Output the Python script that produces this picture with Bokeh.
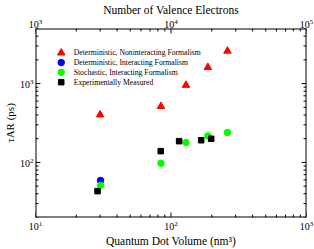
import math
from bokeh.plotting import figure
from bokeh.models import Range1d, LogAxis, LogScale, LogTicker
from bokeh.core.properties import value
from bokeh.embed import file_html
from bokeh.resources import INLINE

# Data
nonint_vol = [30, 84.3, 129, 187, 261]
nonint_tau = [402, 515, 955, 1610, 2590]
int_vol = [30.2]
int_tau = [59]
stoch_vol = [30.2, 84.3, 129, 187, 261]
stoch_tau = [51, 97.7, 179, 217, 240]
exp_vol = [28.7, 84, 114.8, 167, 198]
exp_tau = [43.2, 139, 186, 191, 199.5]

legend_labels = ["Deterministic, Noninteracting Formalism",
                 "Deterministic, Interacting Formalism",
                 "Stochastic, Interacting Formalism",
                 "Experimentally Measured"]

# tick positions (volume axis; the electron axis shares them, x100)
x_major = [10, 100, 1000]
x_minor = [k * d for d in (10, 100) for k in range(2, 10)]
y_major = [100, 1000]
y_minor = [k * d for d in (10, 100, 1000) for k in range(2, 10) if 20 <= k * d <= 5000]

SERIF = "Liberation Serif"
X0, X1 = 9.9999, 1000.01
Y0, Y1 = 20, 5000

p = figure(width=314, height=249, output_backend="svg", toolbar_location=None,
           x_axis_type="log", y_axis_type="log",
           x_range=Range1d(X0, X1), y_range=Range1d(Y0, Y1),
           min_border_left=31, min_border_right=8, min_border_top=24, min_border_bottom=31)
p.background_fill_color = "white"
p.border_fill_color = "white"
p.outline_line_color = None
p.xgrid.visible = False
p.ygrid.visible = False

p.extra_x_ranges = {"top": Range1d(999.99, 100001)}
p.extra_x_scales = {"top": LogScale()}

top_axis = LogAxis(x_range_name="top", ticker=LogTicker(num_minor_ticks=10))
p.add_layout(top_axis, "above")

p.below[0].ticker = LogTicker(num_minor_ticks=10)
p.left[0].ticker = LogTicker(num_minor_ticks=10)

for ax in [p.below[0], p.left[0], top_axis]:
    ax.major_tick_in = 0
    ax.major_tick_out = 0
    ax.minor_tick_in = 0
    ax.minor_tick_out = 0
    ax.axis_line_color = None
    ax.major_tick_line_color = None
    ax.minor_tick_line_color = None
    ax.major_label_text_font = SERIF
    ax.major_label_text_font_size = "10px"
    ax.major_label_text_color = "black"
    ax.major_label_standoff = 3
    ax.axis_label_text_font = SERIF
    ax.axis_label_text_font_size = "11.5px"
    ax.axis_label_text_font_style = "normal"
    ax.axis_label_text_color = "black"
    ax.axis_label_standoff = 2
top_axis.major_label_standoff = 1
top_axis.axis_label_standoff = 0
p.left[0].major_label_standoff = 2
p.left[0].axis_label_standoff = 1
p.left[0].axis_label_text_font_size = "11px"

p.below[0].axis_label = "Quantum Dot Volume (nm\u00b3)"
top_axis.axis_label = "Number of Valence Electrons"
p.left[0].axis_label = "\u03c4AR (ps)"

# frame and inward ticks drawn as line glyphs
p.segment(x0=[X0, X0, X0, X1], y0=[Y0, Y1, Y0, Y0], x1=[X1, X1, X0, X1], y1=[Y0, Y1, Y1, Y1],
          line_color="black", line_width=2)

ly = math.log10(Y1 / Y0) / 191.0   # decades per pixel, vertical
lx = math.log10(X1 / X0) / 275.0   # decades per pixel, horizontal

def vticks(vals, length):
    f = 10 ** (length * ly)
    xs0 = vals + vals
    ys0 = [Y0] * len(vals) + [Y1] * len(vals)
    ys1 = [Y0 * f] * len(vals) + [Y1 / f] * len(vals)
    return xs0, ys0, ys1

def hticks(vals, length):
    f = 10 ** (length * lx)
    ys = vals + vals
    xs0 = [X0] * len(vals) + [X1] * len(vals)
    xs1 = [X0 * f] * len(vals) + [X1 / f] * len(vals)
    return ys, xs0, xs1

for vals, ln in ((x_major, 5), (x_minor, 3)):
    xs, ys0, ys1 = vticks(vals, ln)
    p.segment(x0=xs, y0=ys0, x1=xs, y1=ys1, line_color="black", line_width=1)
for vals, ln in ((y_major, 5), (y_minor, 3)):
    ys, xs0, xs1 = hticks(vals, ln)
    p.segment(x0=xs0, y0=ys, x1=xs1, y1=ys, line_color="black", line_width=1)

p.scatter(nonint_vol, nonint_tau, marker="triangle", size=7.5, color="red")
p.scatter(int_vol, int_tau, marker="circle", size=6.5, color="blue")
p.scatter(stoch_vol, stoch_tau, marker="circle", size=6.5, color="lime")
p.scatter(exp_vol, exp_tau, marker="square", size=5.5, color="black")

# key, placed at fractions of the plotting area (log space)
def xfrac(f):
    return 10 ** (math.log10(X0) + f * (math.log10(X1) - math.log10(X0)))

def yfrac(f):
    return 10 ** (math.log10(Y1) - f * (math.log10(Y1) - math.log10(Y0)))

key_rows = [yfrac(f) for f in (0.129, 0.180, 0.232, 0.284)]
key_marker_x = xfrac(0.095)
key_text_x = xfrac(0.141)
key_markers = ["triangle", "circle", "circle", "square"]
key_colors = ["red", "blue", "lime", "black"]
key_sizes = [7.5, 6.5, 6.5, 5.5]
for yk, mk, ck, sk in zip(key_rows, key_markers, key_colors, key_sizes):
    p.scatter([key_marker_x], [yk], marker=mk, size=sk, color=ck)
p.text(x=[key_text_x] * 4, y=key_rows, text=legend_labels,
       text_font=value(SERIF), text_font_size="7.7px", text_color="black",
       text_align="left", text_baseline="middle")

open("out.html", "w").write(file_html(p, INLINE))
